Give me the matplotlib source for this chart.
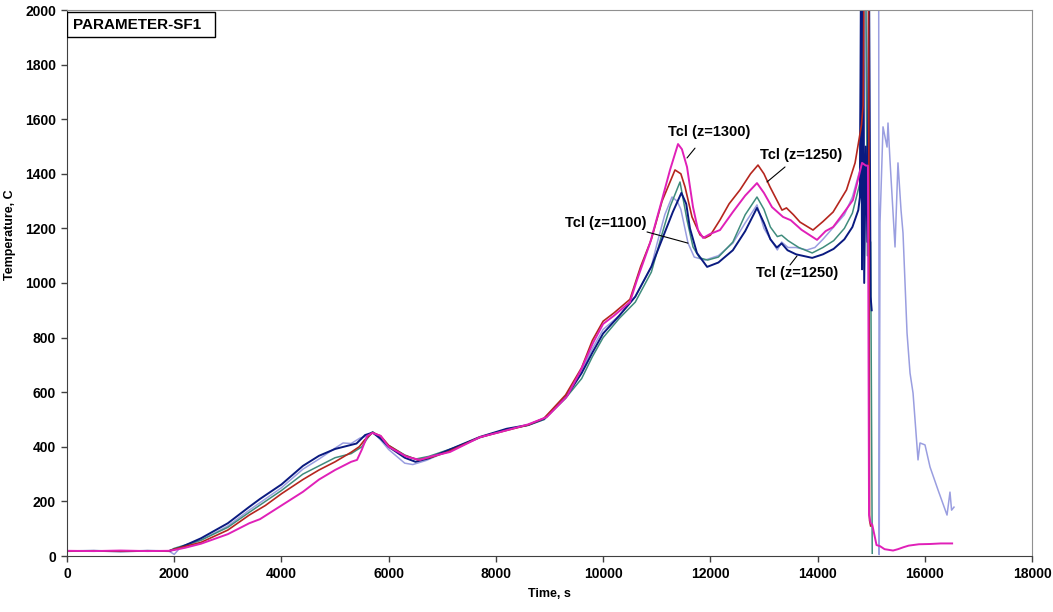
import numpy as np
import matplotlib
matplotlib.use("Agg")
import matplotlib.pyplot as plt
from matplotlib.patches import Rectangle

plt.rcParams['font.family'] = ['Liberation Sans', 'DejaVu Sans']
plt.rcParams['font.weight'] = 'bold'

# centreline thermocouple records, time in s and temperature in C
t_navy = [0, 500, 1000, 1500, 1900, 2100, 2500, 3000, 3400, 3600, 4000, 4400, 4700, 5000, 5400, 5560,
          5700, 5850, 6000, 6300, 6500, 6750, 7200, 7700, 8200, 8600, 8900, 9300, 9600, 9800, 10000,
          10300, 10600, 10900, 11100, 11300, 11460, 11550, 11620, 11750, 11940, 12150, 12420, 12650,
          12870, 13000, 13120, 13240, 13330, 13440, 13600, 13900, 14100, 14300, 14500, 14650, 14760,
          14790, 14810, 14830, 14850, 14870, 14900, 14930, 14960, 14990, 15010]
T_navy = [18, 19, 17, 19, 18, 30, 65, 120, 180, 209, 262, 330, 367, 392, 412, 443,
          452, 430, 400, 360, 345, 358, 395, 436, 466, 480, 503, 580, 670, 745, 815,
          880, 950, 1060, 1160, 1260, 1330, 1290, 1200, 1110, 1059, 1075, 1120, 1190,
          1275, 1220, 1160, 1130, 1145, 1120, 1105, 1092, 1105, 1125, 1160, 1205, 1267,
          1315, 2150, 1050, 2150, 1000, 1500, 1150, 2150, 950, 900]

t_lav = [0, 500, 1000, 1500, 1900, 2000, 2100, 2500, 3000, 3400, 4000, 4400, 4700, 5000, 5150, 5300,
         5465, 5600, 5700, 5850, 6000, 6300, 6450, 6700, 7200, 7700, 8200, 8600, 8900, 9300, 9600,
         9800, 10000, 10300, 10600, 10900, 11000, 11150, 11285, 11380, 11450, 11584, 11700, 11900,
         12150, 12420, 12650, 12870, 13000, 13130, 13250, 13330, 13450, 13600, 13800, 13950, 14100,
         14300, 14500, 14650, 14790, 14830, 14870, 14900, 15140, 15150, 15165, 15221, 15296, 15314,
         15351, 15445, 15500, 15557, 15594, 15669, 15725, 15781, 15874, 15911, 16004, 16098, 16247,
         16415, 16470, 16500, 16545]
T_lav = [18, 19, 18, 19, 18, 6, 28, 58, 110, 168, 250, 318, 355, 395, 414, 412,
         432, 440, 455, 425, 390, 340, 335, 350, 392, 433, 463, 478, 500, 585, 680,
         760, 830, 880, 950, 1060, 1140, 1250, 1315, 1300, 1270, 1146, 1095, 1084,
         1100, 1146, 1220, 1286, 1200, 1158, 1121, 1150, 1130, 1130, 1121, 1130, 1160,
         1205, 1250, 1315, 1414, 2200, 1500, 2200, 2200, 5, 1220, 1572, 1498, 1586,
         1450, 1132, 1440, 1267, 1183, 817, 670, 597, 352, 414, 407, 326, 242,
         150, 234, 168, 179]

t_teal = [0, 500, 1000, 1500, 1900, 2000, 2500, 3000, 3400, 3700, 4000, 4400, 4700, 5000, 5300, 5500,
          5600, 5700, 5850, 6000, 6300, 6500, 6750, 7200, 7700, 8200, 8600, 8900, 9300, 9600, 9800,
          10000, 10300, 10600, 10900, 11100, 11250, 11434, 11565, 11677, 11800, 11950, 12150, 12420,
          12650, 12870, 13000, 13120, 13250, 13330, 13450, 13650, 13900, 14100, 14300, 14500, 14650,
          14790, 14840, 14900, 14930, 14960, 14990, 15020]
T_teal = [18, 19, 18, 19, 18, 28, 58, 105, 160, 200, 240, 300, 330, 360, 375, 400,
          430, 455, 435, 405, 370, 355, 365, 395, 434, 464, 479, 500, 578, 650, 730,
          800, 870, 930, 1040, 1180, 1280, 1370, 1231, 1132, 1092, 1084, 1095, 1150,
          1250, 1315, 1270, 1205, 1170, 1175, 1155, 1130, 1110, 1130, 1155, 1200, 1256,
          1366, 2200, 2200, 1100, 1160, 1150, 10]

t_red = [0, 500, 1000, 1500, 1900, 2000, 2500, 3000, 3400, 3700, 4000, 4400, 4700, 5000, 5300, 5450,
         5550, 5700, 5850, 6000, 6300, 6550, 6800, 7100, 7700, 8100, 8600, 8900, 9300, 9600, 9800,
         10000, 10200, 10500, 10700, 10900, 11100, 11341, 11450, 11528, 11658, 11808, 11900, 12000,
         12180, 12350, 12553, 12750, 12889, 13000, 13113, 13250, 13337, 13420, 13550, 13673, 13915,
         14100, 14290, 14540, 14700, 14820, 14850, 14870, 14950, 14970, 14990]
T_red = [18, 19, 18, 19, 18, 25, 50, 95, 150, 185, 228, 280, 315, 345, 380, 400,
         425, 452, 440, 405, 368, 352, 362, 381, 435, 455, 480, 505, 590, 690, 790,
         860, 890, 940, 1060, 1160, 1300, 1414, 1400, 1352, 1242, 1176, 1165, 1175,
         1231, 1290, 1341, 1400, 1432, 1400, 1352, 1300, 1267, 1275, 1250, 1223, 1194,
         1225, 1260, 1341, 1440, 1580, 1650, 2200, 2200, 130, 110]

t_mag = [0, 500, 1000, 1500, 1900, 2000, 2200, 2500, 3000, 3400, 3600, 4000, 4400, 4700, 5000, 5300,
         5410, 5500, 5600, 5700, 5850, 6000, 6340, 6585, 6800, 7144, 7700, 8077, 8600, 8950, 9327,
         9570, 9810, 10000, 10200, 10500, 10632, 10875, 11061, 11248, 11397, 11470, 11565, 11677,
         11770, 11865, 12000, 12180, 12420, 12650, 12870, 13000, 13150, 13356, 13500, 13700, 13990,
         14150, 14290, 14500, 14660, 14830, 14900, 14940, 14960, 14990, 15020, 15100, 15165, 15250,
         15408, 15500, 15600, 15700, 15890, 16100, 16300, 16510]
T_mag = [19, 18, 20, 18, 19, 22, 30, 45, 80, 120, 135, 185, 235, 280, 315, 345,
         352, 390, 440, 451, 440, 400, 363, 352, 365, 381, 435, 454, 482, 509, 585,
         675, 780, 850, 880, 930, 1011, 1146, 1278, 1414, 1509, 1490, 1425, 1278,
         1194, 1165, 1180, 1194, 1260, 1320, 1366, 1330, 1278, 1242, 1230, 1195, 1158,
         1190, 1205, 1260, 1304, 1440, 1430, 1430, 150, 120, 115, 40, 36, 25,
         20, 25, 32, 38, 43, 44, 46, 46]

x_ticks = np.arange(0, 18001, 2000)
y_ticks = np.arange(0, 2001, 200)

fig = plt.figure(figsize=(10.53, 6.12), dpi=100)
ax = fig.add_axes([67 / 1053, 1 - 556 / 612, 965 / 1053, 546 / 612])

ax.plot(t_lav, T_lav, color='#9a9ee0', lw=1.1)
ax.plot(t_teal, T_teal, color='#3f8c7c', lw=1.1)
ax.plot(t_navy, T_navy, color='#0a1a80', lw=1.4)
ax.plot(t_red, T_red, color='#b5261e', lw=1.2)
ax.plot(t_mag, T_mag, color='#e020b8', lw=1.4)

ax.set_xlim(0, 18000)
ax.set_ylim(0, 2000)
ax.set_xticks(x_ticks)
ax.set_yticks(y_ticks)
ax.tick_params(direction='out', length=4, width=1, color='#404040', labelsize=10, pad=4)
for lab in ax.get_xticklabels() + ax.get_yticklabels():
    lab.set_fontweight('bold')

for side in ['left', 'bottom']:
    ax.spines[side].set_color('#404040')
for side in ['top', 'right']:
    ax.spines[side].set_color('#909090')

ax.set_xlabel('Time, s', fontsize=9, fontweight='bold', labelpad=5)
ax.set_ylabel('Temperature, C', fontsize=9, fontweight='bold')
ax.yaxis.set_label_coords(-0.053, 0.588)

# case title box in the top-left corner
ax.add_patch(Rectangle((0.0, 0.9505), 0.1534, 0.0458, transform=ax.transAxes,
                       facecolor='white', edgecolor='black', lw=1, zorder=5))
ax.text(0.0065, 0.9734, 'PARAMETER-SF1', transform=ax.transAxes, fontsize=11,
        fontweight='bold', va='center', ha='left', zorder=6)

line_kw = dict(arrowstyle='-', color='black', lw=0.8, shrinkA=0, shrinkB=0)
notes = [
    ('Tcl (z=1300)', (11975, 1553), (11714, 1494), (11565, 1458)),
    ('Tcl (z=1250)', (13691, 1469), (13393, 1425), (13057, 1370)),
    ('Tcl (z=1100)', (10054, 1220), (10819, 1187), (11584, 1146)),
    ('Tcl (z=1250)', (13617, 1037), (13486, 1066), (13617, 1099)),
]
for txt, pos, start, end in notes:
    ax.text(pos[0], pos[1], txt, fontsize=10.5, fontweight='bold', ha='center', va='center')
    ax.annotate('', xy=end, xytext=start, arrowprops=line_kw)

fig.savefig('out.png', dpi=100)
